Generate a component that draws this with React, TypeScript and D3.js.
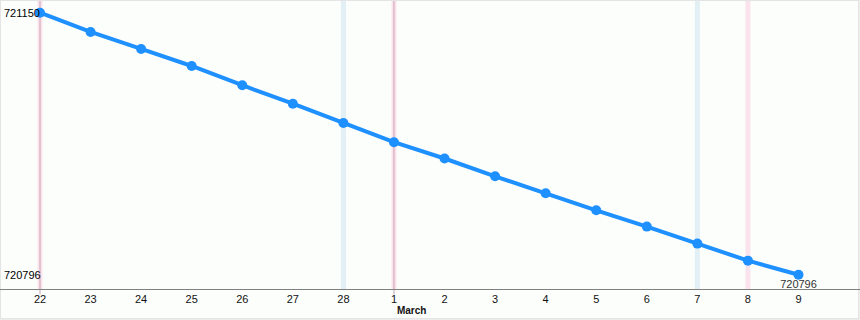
import React from "react";
import * as d3 from "d3";

const dayLabels = ["22", "23", "24", "25", "26", "27", "28", "1", "2", "3", "4", "5", "6", "7", "8", "9"];
const values = [721150, 721124, 721101, 721078, 721052, 721027, 721001, 720975, 720953, 720929, 720906, 720883, 720861, 720838, 720815, 720796];
const saturdayIdx = [6, 13];
const sundayIdx = [0, 7, 14];
const markerIdx = [0, 7];
const monthLabel = "March";
const monthIdx = 7;

const W = 860;
const H = 320;

export default function App() {
  const x = d3.scaleLinear().domain([0, dayLabels.length - 1]).range([40, 798.5]);
  const yMin = d3.min(values) as number;
  const yMax = d3.max(values) as number;
  const y = d3.scaleLinear().domain([yMin, yMax]).range([274.7, 12.7]);
  const axisY = 289.5;
  const line = d3.line<number>().x((_, i) => x(i)).y((d) => y(d));
  const font = "'Liberation Sans', Arial, sans-serif";
  return (
    <svg width={W} height={H} style={{ position: "absolute", left: 0, top: 0 }} fontFamily={font}>
      <rect x={0} y={0} width={W} height={H} fill="#ececec" />
      <rect x={0.5} y={0.5} width={W - 2} height={318} fill="#fcfefc" stroke="#e4e4e4" />
      {saturdayIdx.map((i) => (
        <rect key={"s" + i} x={x(i) - 2.5} y={1} width={5} height={axisY - 1} fill="#e2eff4" />
      ))}
      {sundayIdx.map((i) => (
        <rect key={"u" + i} x={x(i) - 2.5} y={1} width={5} height={axisY - 1} fill="#fbe3ee" />
      ))}
      {markerIdx.map((i) => (
        <line key={"m" + i} x1={x(i)} x2={x(i)} y1={1} y2={axisY + 5} stroke="#c9a6b2" strokeWidth={1} />
      ))}
      <line x1={0} x2={W} y1={axisY} y2={axisY} stroke="#808080" strokeWidth={1} />
      {dayLabels.map((d, i) => (
        <text key={"t" + i} x={x(i)} y={303} textAnchor="middle" fontSize={11} fill="#111">
          {d}
        </text>
      ))}
      <text x={x(monthIdx) + 3} y={314} textAnchor="start" fontSize={10} fontWeight="bold" fill="#111">
        {monthLabel}
      </text>
      <path d={line(values) || ""} fill="none" stroke="#1e90ff" strokeWidth={4} strokeLinejoin="round" />
      {values.map((v, i) => (
        <circle key={"c" + i} cx={x(i)} cy={y(v)} r={5} fill="#1e90ff" />
      ))}
      <text x={4} y={y(yMax) + 4.5} fontSize={11} fill="#000">
        {String(yMax)}
      </text>
      <text x={4} y={y(yMin) + 4.5} fontSize={11} fill="#000">
        {String(yMin)}
      </text>
      <text x={x(values.length - 1)} y={288} textAnchor="middle" fontSize={11} fill="#333">
        {String(values[values.length - 1])}
      </text>
    </svg>
  );
}
